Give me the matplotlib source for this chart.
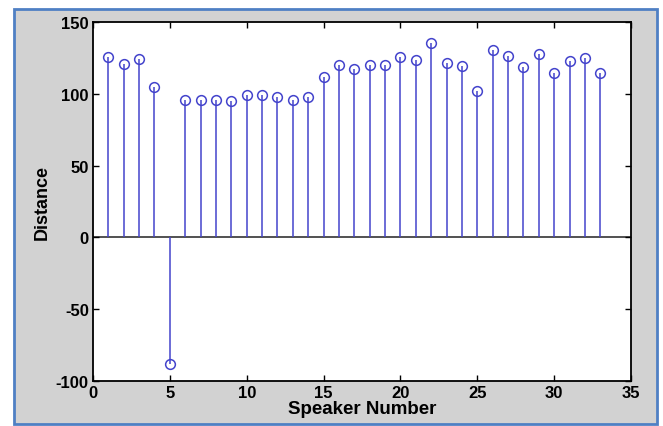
import numpy as np
import matplotlib
matplotlib.use("Agg")
import matplotlib.pyplot as plt
import matplotlib.patches as mpatches

# distance per speaker
speaker = np.arange(1, 34)
distance = [125.6, 120.7, 124.2, 104.4, -88.4, 95.6, 95.6, 95.6, 94.9, 99.1,
            99.1, 97.9, 95.6, 97.7, 111.9, 119.8, 117.4, 119.8, 119.8, 125.6,
            123.5, 135.3, 121.4, 119.1, 102.1, 130.7, 126.5, 118.4, 127.9, 114.7,
            122.6, 124.9, 114.7]
xticks = [0, 5, 10, 15, 20, 25, 30, 35]
yticks = [-100, -50, 0, 50, 100, 150]

plt.rcParams['font.family'] = ['Liberation Sans', 'DejaVu Sans']
plt.rcParams['font.weight'] = 'bold'
plt.rcParams['axes.unicode_minus'] = False

fig = plt.figure(figsize=(6.63, 4.27), dpi=100)
fig.patch.set_facecolor('white')

# gray window panel with blue frame, kept behind the axes
panel = mpatches.Rectangle((14/663, 1 - 425/427), (657-14)/663, (425-10)/427,
                           transform=fig.transFigure, facecolor='#d2d2d2',
                           edgecolor='#4f80c4', linewidth=2, zorder=-10)
fig.add_artist(panel)

ax = fig.add_axes([93/663, 1 - 382/427, (631-93)/663, (382-23)/427])
ax.set_facecolor('white')

blue = '#4444cc'
markerline, stemlines, baseline = ax.stem(speaker, distance, basefmt=' ')
plt.setp(stemlines, color=blue, linewidth=1.1)
plt.setp(markerline, color=blue, marker='o', markerfacecolor='none',
         markeredgecolor=blue, markersize=7, markeredgewidth=1.1)
# MATLAB style baseline across the whole axes
ax.axhline(0, color='#333333', linewidth=1.2, zorder=1)

ax.set_xlim(0, 35)
ax.set_ylim(-100, 150)
ax.set_xticks(xticks)
ax.set_yticks(yticks)
ax.tick_params(direction='in', top=True, right=True, length=4, width=1,
               labelsize=12, pad=3)
for lab in ax.get_xticklabels() + ax.get_yticklabels():
    lab.set_fontweight('bold')
for s in ax.spines.values():
    s.set_linewidth(1.3)
    s.set_color('black')

ax.set_xlabel('Speaker Number', fontsize=13.5, fontweight='bold', labelpad=0)
ax.set_ylabel('Distance', fontsize=13, fontweight='bold', labelpad=4)

fig.savefig('out.png', dpi=100)
